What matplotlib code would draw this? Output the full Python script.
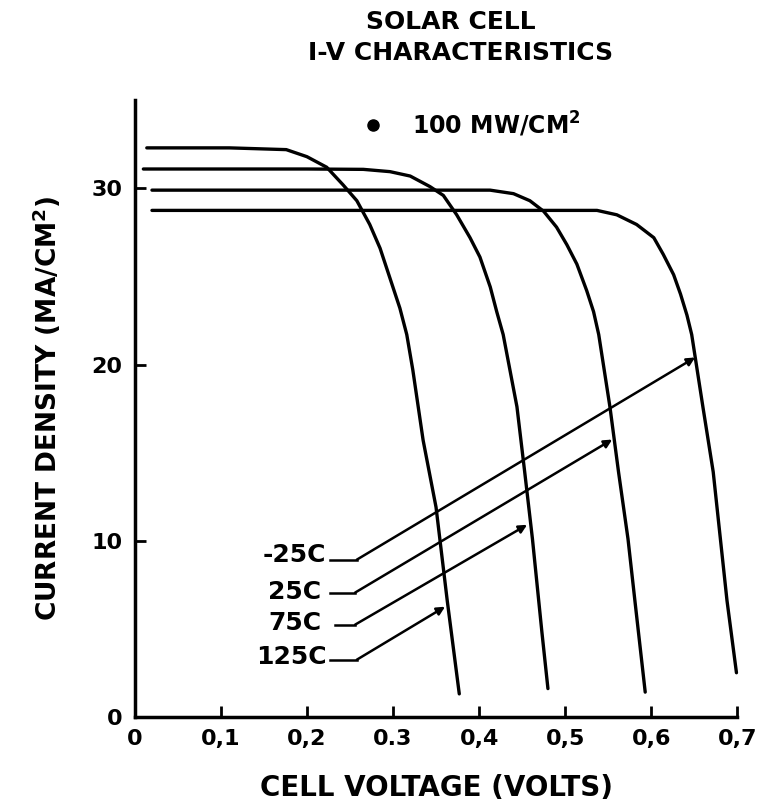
import matplotlib
matplotlib.use("Agg")
import matplotlib.pyplot as plt

v_125 = [0.014, 0.110, 0.176, 0.200, 0.223, 0.242, 0.258, 0.273, 0.285, 0.2965,
         0.308, 0.316, 0.323, 0.335, 0.350, 0.363, 0.377]
i_125 = [32.3, 32.3, 32.2, 31.8, 31.2, 30.2, 29.3, 27.95, 26.6, 24.9,
         23.2, 21.7, 19.7, 15.7, 11.9, 6.6, 1.3]

v_75 = [0.010, 0.100, 0.200, 0.2655, 0.2965, 0.320, 0.343, 0.3585, 0.374, 0.3895,
        0.401, 0.413, 0.4205, 0.428, 0.444, 0.453, 0.462, 0.473, 0.480]
i_75 = [31.1, 31.1, 31.1, 31.08, 30.95, 30.7, 30.1, 29.6, 28.5, 27.2,
        26.1, 24.4, 23.0, 21.7, 17.6, 13.9, 10.1, 4.8, 1.6]

v_25 = [0.020, 0.100, 0.200, 0.300, 0.4128, 0.440, 0.459, 0.475, 0.490, 0.502,
        0.5136, 0.525, 0.533, 0.539, 0.552, 0.562, 0.573, 0.581, 0.593]
i_25 = [29.9, 29.9, 29.9, 29.9, 29.9, 29.7, 29.3, 28.7, 27.8, 26.8,
        25.7, 24.2, 23.0, 21.7, 17.6, 13.9, 10.1, 6.6, 1.4]

v_m25 = [0.020, 0.100, 0.200, 0.300, 0.400, 0.537, 0.560, 0.583, 0.603, 0.614,
         0.626, 0.634, 0.6415, 0.647, 0.660, 0.672, 0.688, 0.699]
i_m25 = [28.75, 28.75, 28.75, 28.75, 28.75, 28.75, 28.5, 27.95, 27.2, 26.25,
         25.1, 24.0, 22.8, 21.7, 17.6, 13.9, 6.6, 2.5]

# Temperature labels and their leader lines: label position, elbow, arrow tip
temp_labels = ["-25C", "25C", "75C", "125C"]
label_v = [0.222, 0.217, 0.217, 0.223]
label_i = [9.2, 7.1, 5.3, 3.4]
elbow_start_v = [0.227, 0.227, 0.233, 0.227]
elbow_end_v = [0.258, 0.256, 0.256, 0.258]
elbow_i = [8.92, 7.05, 5.23, 3.24]
tip_v = [0.651, 0.5547, 0.4558, 0.3605]
tip_i = [20.4, 15.74, 10.9, 6.25]

x_ticks = [0, 0.1, 0.2, 0.3, 0.4, 0.5, 0.6, 0.7]
x_tick_labels = ["0", "0,1", "0,2", "0.3", "0,4", "0,5", "0,6", "0,7"]
y_ticks = [0, 10, 20, 30]

plt.rcParams['font.family'] = 'DejaVu Sans'
plt.rcParams['font.weight'] = 'bold'
plt.rcParams['mathtext.default'] = 'bf'

fig = plt.figure(figsize=(7.57, 8.09), dpi=100)
ax = fig.add_axes([0.178, 0.114, 0.796, 0.762])

# Curves
for v, i in [(v_125, i_125), (v_75, i_75), (v_25, i_25), (v_m25, i_m25)]:
    ax.plot(v, i, color='black', lw=2.4, solid_capstyle='round',
            solid_joinstyle='round', clip_on=False)

# Leader lines with arrows
for k in range(len(temp_labels)):
    ax.text(label_v[k], label_i[k], temp_labels[k], ha='right', va='center',
            fontsize=18, fontweight='bold')
    ax.plot([elbow_start_v[k], elbow_end_v[k]], [elbow_i[k], elbow_i[k]],
            color='black', lw=1.8)
    ax.annotate('', xy=(tip_v[k], tip_i[k]), xytext=(elbow_end_v[k], elbow_i[k]),
                arrowprops=dict(arrowstyle='-|>', color='black', lw=1.8,
                                mutation_scale=12, shrinkA=0, shrinkB=0))

# Illumination note
ax.plot([0.277], [33.6], 'o', color='black', ms=8, clip_on=False)
ax.text(0.322, 33.6, r'100 MW/CM$^2$', ha='left', va='center',
        fontsize=17, fontweight='bold')

ax.set_xlim(0, 0.7)
ax.set_ylim(0, 35)
ax.set_xticks(x_ticks)
ax.set_xticklabels(x_tick_labels)
ax.set_yticks(y_ticks)
ax.tick_params(direction='in', length=8, width=2, labelsize=16, pad=9)
for lab in ax.get_xticklabels() + ax.get_yticklabels():
    lab.set_fontweight('bold')

for side in ['top', 'right']:
    ax.spines[side].set_visible(False)
for side in ['left', 'bottom']:
    ax.spines[side].set_linewidth(2.5)

ax.set_xlabel('CELL VOLTAGE (VOLTS)', fontsize=20, fontweight='bold', labelpad=18)
ax.set_ylabel(r'CURRENT DENSITY (MA/CM$^2$)', fontsize=19, fontweight='bold', labelpad=20)

fig.text(0.595, 0.973, 'SOLAR CELL', ha='center', va='center', fontsize=18, fontweight='bold')
fig.text(0.608, 0.934, 'I-V CHARACTERISTICS', ha='center', va='center', fontsize=18, fontweight='bold')

plt.savefig('out.png', dpi=100)
